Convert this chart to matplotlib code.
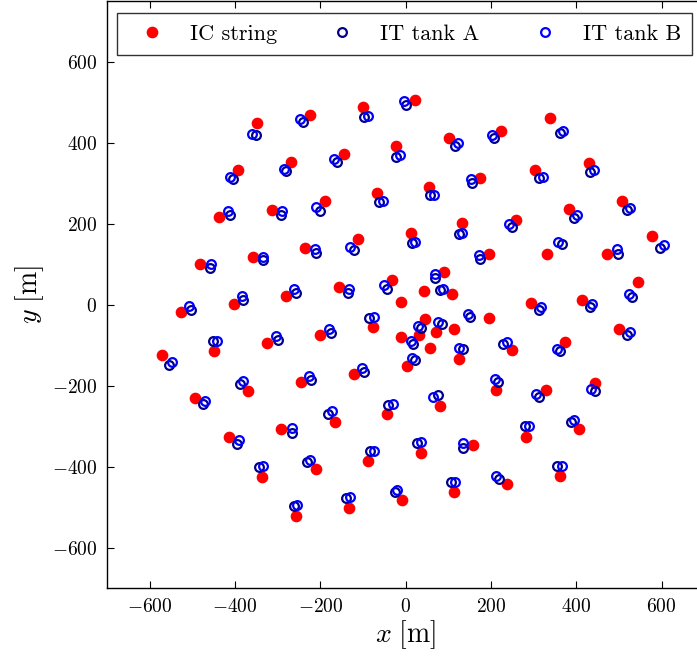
import matplotlib
matplotlib.use("Agg")
import matplotlib.pyplot as plt

plt.rcParams['font.family'] = 'serif'
plt.rcParams['font.serif'] = ['cmr10']
plt.rcParams['mathtext.fontset'] = 'cm'
plt.rcParams['axes.formatter.use_mathtext'] = True

# IceCube string positions [m]
ic_x = [-348, -224, -101, 23, 223, 339, -393, -269, -145, -22, 102, 175, 304, 430,
        -437, -314, -190, -66, 55, 383, 506, 259, 132, -111, 13, 577, -236, -358,
        195, 331, 472, -482, 91, -33, -156, 42, 108, -11, 545, 294, 413, -403, -280,
        -527, -77, 46, 72, 113, 32, -10, 57, 195, -201, -325, -448, -571, 501, 373,
        249, 126, 3, -122, -244, -369, -493, 212, 328, 444, 80, -43, -166, -291, -413,
        406, 283, 159, 36, -88, -211, -336, 361, 238, 114, -8, -133, -256]
ic_y = [450, 469, 489, 507, 430, 462, 333, 352, 373, 392, 411, 314, 334, 351,
        217, 235, 256, 277, 292, 237, 257, 210, 202, 162, 178, 170, 139, 119,
        125, 126, 126, 100, 82, 61, 43, 35, 26, 6, 55, 4, 12, 3, 22,
        -17, -56, -35, -67, -61, -74, -80, -106, -32, -75, -95, -114, -125, -59, -93,
        -113, -133, -151, -172, -192, -212, -230, -211, -210, -193, -249, -269, -289, -308, -328,
        -307, -326, -346, -366, -385, -405, -425, -423, -443, -463, -482, -502, -521]

# IceTop tank positions [m]
ta_x = [-351, -240, -97, 2, 208, 361, -404, -280, -161, -22, 116, 155, 313, 433,
        -412, -293, -201, -62, 57, 394, 518, 249, 126, -121, 15, 597, -211, -335,
        174, 367, 498, -458, 70, -43, -134, 80, 531, 313, 431, -380, -256, -502,
        -86, 85, 35, 17, 151, -175, -300, -451, -554, 520, 363, 228, 135, 21,
        -98, -222, -389, -475, 216, 312, 443, 76, -41, -183, -266, -394, 388, 279,
        135, 26, -84, -230, -344, 355, 220, 106, -26, -140, -262]
ta_y = [419, 452, 463, 494, 412, 424, 310, 330, 353, 366, 393, 300, 312, 329,
        221, 221, 232, 253, 270, 215, 234, 193, 175, 136, 152, 140, 128, 110,
        114, 150, 126, 90, 66, 40, 28, 37, 20, -13, -6, 11, 30, -12,
        -32, -47, -58, -96, -31, -70, -88, -90, -150, -76, -114, -96, -109, -137,
        -165, -185, -196, -246, -190, -229, -214, -224, -247, -269, -316, -344, -290, -300,
        -354, -342, -362, -388, -400, -398, -430, -439, -463, -477, -498]
tb_x = [-360, -247, -87, -3, 202, 370, -411, -285, -167, -14, 123, 153, 321, 442,
        -416, -289, -210, -52, 66, 402, 525, 242, 133, -130, 23, 605, -212, -334,
        171, 358, 495, -456, 68, -50, -133, 88, 524, 317, 436, -384, -261, -507,
        -75, 76, 30, 13, 146, -180, -304, -442, -547, 525, 355, 238, 124, 14,
        -102, -226, -381, -469, 210, 306, 434, 65, -30, -173, -266, -390, 394, 290,
        135, 35, -75, -224, -334, 366, 213, 115, -20, -130, -255]
tb_y = [422, 460, 467, 503, 420, 430, 316, 335, 360, 369, 399, 311, 316, 332,
        231, 231, 241, 256, 272, 221, 240, 200, 177, 142, 154, 147, 138, 119,
        124, 155, 138, 101, 77, 48, 39, 38, 26, -5, 3, 21, 40, -2,
        -31, -43, -53, -89, -23, -61, -77, -90, -141, -68, -109, -91, -106, -132,
        -156, -175, -189, -239, -184, -220, -207, -228, -246, -263, -305, -334, -284, -300,
        -342, -340, -362, -383, -399, -398, -424, -437, -458, -476, -496]

W, H = 697, 657
fig = plt.figure(figsize=(W / 100, H / 100), dpi=100)
ax = fig.add_axes([106.9 / W, 69 / H, 597.4 / W, 586.75 / H])

ax.plot(ic_x, ic_y, 'o', color='red', markeredgecolor='red', markersize=7.4,
        linestyle='none', label='IC string')
ax.plot(ta_x, ta_y, 'o', markerfacecolor='none', markeredgecolor='#00008B',
        markersize=6.3, markeredgewidth=1.6, linestyle='none', label='IT tank A')
ax.plot(tb_x, tb_y, 'o', markerfacecolor='none', markeredgecolor='#0000FF',
        markersize=6.3, markeredgewidth=1.6, linestyle='none', label='IT tank B')

ax.set_xlim(-700, 700)
ax.set_ylim(-700, 750)
ax.set_xticks([-600, -400, -200, 0, 200, 400, 600])
ax.set_yticks([-600, -400, -200, 0, 200, 400, 600])
ax.tick_params(direction='in', length=5, width=0.8, top=True, right=True,
               labelsize=14, pad=7)
for s in ax.spines.values():
    s.set_linewidth(1.0)

ax.set_xlabel(r'$x\ [\mathrm{m}]$', fontsize=20, labelpad=2)
ax.set_ylabel(r'$y\ [\mathrm{m}]$', fontsize=20, labelpad=4)

leg = ax.legend(loc='upper left', bbox_to_anchor=(0.0169, 0.0, 0.9625, 0.98),
                mode='expand', ncol=3, borderaxespad=0, fontsize=16,
                numpoints=1, fancybox=False, handletextpad=0.63,
                handlelength=2.16, borderpad=0.5)
leg.get_frame().set_edgecolor('black')
leg.get_frame().set_linewidth(1.0)

fig.savefig('out.png', dpi=100)
